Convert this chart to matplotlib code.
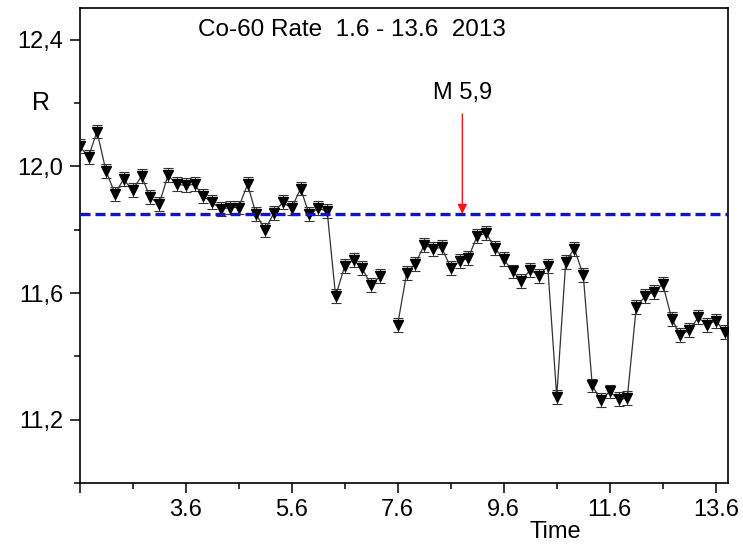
import numpy as np
import matplotlib
matplotlib.use("Agg")
import matplotlib.pyplot as plt
from matplotlib.ticker import FixedLocator

plt.rcParams['font.family'] = ['Liberation Sans', 'DejaVu Sans']

# ---- data ----
time = [1.60, 1.77, 1.93, 2.10, 2.27, 2.43, 2.60, 2.77, 2.93, 3.10,
        3.27, 3.43, 3.60, 3.77, 3.93, 4.10, 4.27, 4.43, 4.60, 4.77,
        4.93, 5.10, 5.27, 5.43, 5.60, 5.77, 5.93, 6.10, 6.27, 6.43,
        6.60, 6.77, 6.93, 7.10, 7.27, 7.43, 7.60, 7.77, 7.93, 8.10,
        8.27, 8.43, 8.60, 8.77, 8.93, 9.10, 9.27, 9.43, 9.60, 9.77,
        9.93, 10.10, 10.27, 10.43, 10.60, 10.77, 10.93, 11.10, 11.27, 11.43,
        11.60, 11.77, 11.93, 12.10, 12.27, 12.43, 12.60, 12.77, 12.93, 13.10,
        13.27, 13.43, 13.60, 13.77]
rate = [12.064, 12.030, 12.110, 11.985, 11.914, 11.959, 11.925, 11.969, 11.903, 11.880,
        11.972, 11.943, 11.940, 11.943, 11.906, 11.886, 11.865, 11.870, 11.870, 11.943,
        11.849, 11.800, 11.854, 11.886, 11.868, 11.930, 11.849, 11.867, 11.859, 11.590,
        11.684, 11.705, 11.678, 11.625, 11.653, np.nan, 11.500, 11.663, 11.691, 11.751,
        11.740, 11.744, 11.680, 11.700, 11.710, 11.780, 11.789, 11.742, 11.707, 11.668,
        11.638, 11.673, 11.655, 11.685, 11.273, 11.699, 11.740, 11.657, 11.308, 11.261,
        11.289, 11.264, 11.268, 11.555, 11.590, 11.604, 11.628, 11.518, 11.466, 11.483,
        11.523, 11.499, 11.513, 11.476]
rate_err = 0.022
mean_rate = 11.85
quake_time = 8.82
quake_label = "M 5,9"
title = "Co-60 Rate  1.6 - 13.6  2013"
xticks = [1.6, 3.6, 5.6, 7.6, 9.6, 11.6, 13.6]
xticklabels = ["", "3.6", "5.6", "7.6", "9.6", "11.6", "13.6"]
yticks = [11.2, 11.6, 12.0, 12.4]
yticklabels = ["11,2", "11,6", "12,0", "12,4"]

fig = plt.figure(figsize=(7.43, 5.46), dpi=100)
ax = fig.add_axes([79.5 / 743, 63 / 546, (728 - 79.5) / 743, (538 - 63) / 546])

ax.errorbar(time, rate, yerr=rate_err, fmt='-', color='#333333', lw=0.9,
            ecolor='#333333', elinewidth=0.7, capsize=3.8, capthick=0.8,
            marker='v', markersize=7.0, mfc='black', mec='black', zorder=3)

ax.axhline(mean_rate, color='#0a10e6', lw=2.4, linestyle=(0, (3.0, 1.5)), zorder=4)

ax.annotate("", xy=(quake_time, mean_rate), xytext=(quake_time, 12.165),
            arrowprops=dict(arrowstyle='-|>', color='#ff1010', lw=1.0,
                            mutation_scale=14, shrinkA=0, shrinkB=0), zorder=5)
ax.text(quake_time, 12.196, quake_label, ha='center', va='bottom', fontsize=17)
ax.text(6.73, 12.43, title, ha='center', va='center', fontsize=17.5)

ax.set_xlim(1.6, 13.83)
ax.set_ylim(11.0, 12.5)

ax.xaxis.set_major_locator(FixedLocator(xticks))
ax.set_xticklabels(xticklabels)
ax.xaxis.set_minor_locator(FixedLocator([2.6, 4.6, 6.6, 8.6, 10.6, 12.6]))
ax.yaxis.set_major_locator(FixedLocator(yticks))
ax.set_yticklabels(yticklabels)
ax.yaxis.set_minor_locator(FixedLocator([11.0, 11.4, 11.8, 12.2]))

ax.tick_params(which='major', direction='out', length=7.5, width=1.1,
               labelsize=17, top=False, right=False, pad=4)
ax.tick_params(which='minor', direction='out', length=4, width=1.1,
               top=False, right=False)
for s in ax.spines.values():
    s.set_linewidth(1.2)

fig.text(41 / 743, 1 - 103 / 546, "R", ha='center', va='center', fontsize=18)
fig.text(555 / 743, 1 - 532 / 546, "Time", ha='center', va='center', fontsize=17)

fig.savefig("out.png", dpi=100)
